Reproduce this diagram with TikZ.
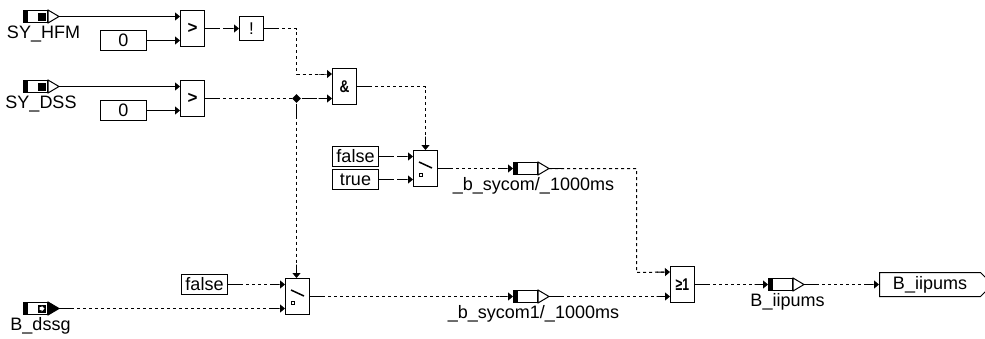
\documentclass[tikz,border=0pt]{standalone}
\usepackage{fontspec}
\setmainfont{Liberation Sans}
\usetikzlibrary{arrows.meta, positioning, calc, shapes.geometric, shapes.symbols}

% message block: black bar on the left, tip on the right
\newcommand{\msgblock}[6]{%
  \node[msgbody] (#1) at (#2, #3) {};
  \fill (#1.north west) rectangle ($(#1.south west)+(5,0)$);
  \draw[fill=#5] (#1.north east) -- ($(#1.east)+(11,0)$) -- (#1.south east) -- cycle;
  \coordinate (#1tip) at ($(#1.east)+(11,0)$);
  \node[lbl] (#1lbl) at ($(#1.center)+(#4)$) {#6};
}
% switch icon inside a switch block
\newcommand{\swicon}[1]{%
  \coordinate (#1up) at ([xshift=6pt, yshift=-12pt]#1.north west);
  \coordinate (#1dn) at ([xshift=19pt, yshift=-18pt]#1.north west);
  \draw[line width=1.5pt] (#1up) -- (#1dn);
  \draw ($(#1.center)+(-6,5)$) rectangle ($(#1.center)+(-3,8)$);
}

\begin{document}
\begin{tikzpicture}[
    x=1pt, y=-1pt, shift={(0.5,0.5)},
    line width=1pt,
    font=\fontsize{18}{20}\selectfont,
    gate/.style={rectangle, draw, fill=white, minimum width=24, minimum height=36, inner sep=0pt, font=\fontsize{17}{18}\selectfont\bfseries},
    notgate/.style={gate, minimum height=24, font=\fontsize{17}{18}\selectfont},
    const/.style={rectangle, draw, fill=white, minimum width=46, minimum height=20, inner sep=0pt},
    msgbody/.style={rectangle, draw, fill=white, minimum width=24, minimum height=12, inner sep=0pt},
    lbl/.style={inner sep=0pt},
    outbox/.style={signal, signal to=east, signal pointer angle=90, draw, fill=white, minimum width=113, minimum height=24, inner sep=0pt},
    junction/.style={diamond, fill=black, inner sep=0pt, minimum size=9},
    tip/.style={-{Triangle[length=5pt, width=8pt]}},
    wire/.style={-{Rectangle[length=9pt, width=1pt] Triangle[length=5pt, width=8pt]}, dash pattern=on 3pt off 3pt, preaction={draw, -, dash pattern=on 14pt off 10000pt}},
]
\useasboundingbox (-0.5, -0.5) rectangle (984.5, 337.5);

% Inputs
\msgblock{hfm}{35}{16}{8,18}{white}{SY\_HFM}
\msgblock{dss}{35}{86}{5.5,17}{white}{SY\_DSS}
\msgblock{dssg}{35}{308}{5,17}{black}{B\_dssg}
\fill (37, 12) rectangle (45, 20);
\fill (37, 82) rectangle (45, 90);
\fill (37, 304) rectangle (45, 312);
\fill[white] (39, 306.5) -- (41, 306.5) -- (41, 305) -- (44, 308) -- (41, 311) -- (41, 309.5) -- (39, 309.5) -- cycle;

% Constants
\node[const] (zeroa) at (123, 40) {0};
\node[const] (zerob) at (123, 110) {0};
\node[const] (falsea) at (355, 156) {false};
\node[const] (truea) at (355, 179) {true};
\node[const] (falseb) at (204, 284) {false};

% Logic blocks
\node[gate] (cmpa) at (192, 28) {>};
\node[gate] (cmpb) at (192, 98) {>};
\node[notgate] (nota) at (251, 28) {!};
\node[gate] (anda) at (344, 86) {\scalebox{.8}[1]{\&}};
\node[gate] (swa) at (425, 168) {};
\node[gate] (swb) at (297, 296) {};
\node[gate] (ora) at (682, 284) {\scalebox{.72}[1]{≥1}};
\swicon{swa}
\swicon{swb}

% Junction
\node[junction] (joint) at (296, 98) {};

% Messages
\msgblock{com}{525}{168}{8,17}{white}{\_b\_sycom/\_1000ms}
\msgblock{comone}{525}{296}{8,17}{white}{\_b\_sycom1/\_1000ms}
\msgblock{iip}{780}{284}{7,17}{white}{B\_iipums}

% Output
\node[outbox] (out) at (929.5, 284) {B\_iipums};

% Bends
\coordinate (andin) at ([yshift=-6pt]anda.north west);
\coordinate (orin) at ([yshift=-6pt]ora.north west);
\coordinate (drop) at (636, 272);

% Arrows
\draw[tip] (hfmtip) -- (hfmtip -| cmpa.west);
\draw[tip] (zeroa.east) -- (zeroa.east -| cmpa.west);
\draw[tip] (dsstip) -- (dsstip -| cmpb.west);
\draw[tip] (zerob.east) -- (zerob.east -| cmpb.west);
\draw[wire] (cmpa.east) -- (nota.west);
\draw[wire] (nota.east) -- (nota.east -| joint) -- (joint |- andin) -- (andin);
\draw[dash pattern=on 3pt off 3pt, preaction={draw, dash pattern=on 14pt off 10000pt}] (cmpb.east) -- (joint.west);
\draw[wire] (joint.east) -- (joint.east -| anda.west);
\draw[wire] (joint.south) -- (joint.south |- swb.north);
\draw[wire] (anda.east) -- (anda.east -| swa.north) -- (swa.north);
\draw[wire] (falsea.east) -- (falsea.east -| swa.west);
\draw[wire] (truea.east) -- (truea.east -| swa.west);
\draw[wire] (falseb.east) -- (falseb.east -| swb.west);
\draw[wire] (dssgtip) -- (dssgtip -| swb.west);
\draw[wire] (swa.east) -- (com.west);
\draw[wire] (swb.east) -- (comone.west);
\draw[wire] (comtip) -- (comtip -| drop) -- (drop) -- (orin);
\draw[wire] (comonetip) -- (comonetip -| ora.west);
\draw[wire] (ora.east) -- (iip.west);
\draw[wire] (iiptip) -- (out.west);

\end{tikzpicture}
\end{document}
